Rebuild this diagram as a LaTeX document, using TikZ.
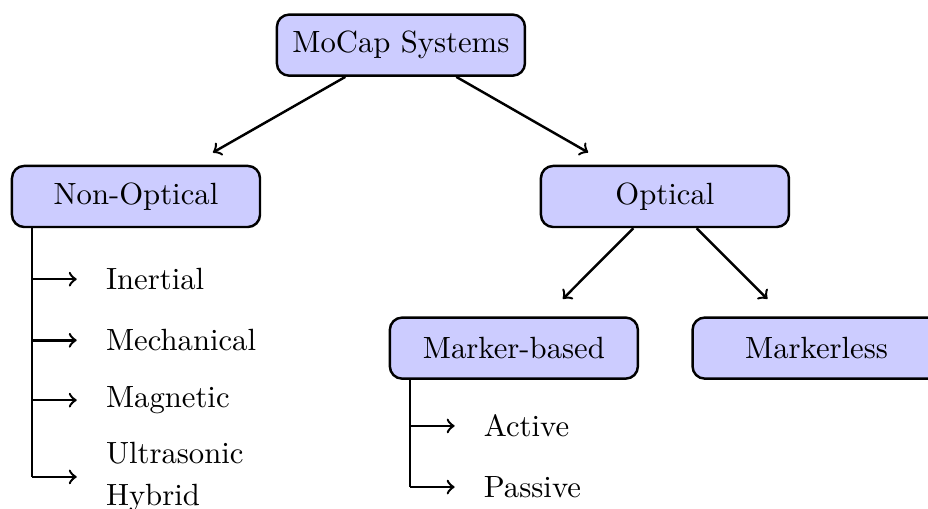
\documentclass[tikz,border=0pt]{standalone}
\usetikzlibrary{calc}
\begin{document}
\begin{tikzpicture}[
  catbox/.style={draw, thick, rounded corners, fill=blue!20,
    minimum width=80.8pt, minimum height=19.9pt, inner sep=2pt},
  leaf/.style={anchor=west, align=left},
  link/.style={->, thick, shorten >=8pt},
  branch/.style={->, thick, shorten >=6pt},
  trunkline/.style={thick}
]
\useasboundingbox (0,0) rectangle (302.3pt,-165.8pt);

% category boxes
\node[catbox] (root)   at (130.6pt,-14.7pt)  {MoCap Systems};
\node[catbox] (nonopt) at (44.3pt,-64.0pt)   {Non-Optical};
\node[catbox] (opt)    at (216.6pt,-64.0pt)  {Optical};
\node[catbox] (mb)     at (167.4pt,-113.4pt) {Marker-based};
\node[catbox] (ml)     at (266.0pt,-113.4pt) {Markerless};

% tree links
\draw[link] (root) -- (nonopt);
\draw[link] (root) -- (opt);
\draw[link] (opt) -- (mb);
\draw[link] (opt) -- (ml);

% non-optical sub-types
\coordinate (ntop) at ($(nonopt.south west)+(7pt,0)$);
\node[leaf] (inertial) at ($(ntop)+(20.5pt,-16.6pt)$) {Inertial};
\node[leaf] (mech)     at ($(ntop)+(20.5pt,-36.5pt)$) {Mechanical};
\node[leaf] (magn)     at ($(ntop)+(20.5pt,-56.0pt)$) {Magnetic};
\node[leaf] (ultra)    at ($(ntop)+(20.5pt,-81.0pt)$) {Ultrasonic\\[1.6pt]Hybrid};
\draw[trunkline] (ntop) -- (ntop |- ultra.west);
\foreach \n in {inertial,mech,magn,ultra}
  \draw[branch] (ntop |- \n.west) -- (\n.west);

% marker-based sub-types
\coordinate (mtop) at ($(mb.south west)+(7pt,0)$);
\node[leaf] (active)  at ($(mtop)+(20.5pt,-15.0pt)$) {Active};
\node[leaf] (passive) at ($(mtop)+(20.5pt,-34.9pt)$) {Passive};
\draw[trunkline] (mtop) -- (mtop |- passive.west);
\foreach \n in {active,passive}
  \draw[branch] (mtop |- \n.west) -- (\n.west);
\end{tikzpicture}
\end{document}
